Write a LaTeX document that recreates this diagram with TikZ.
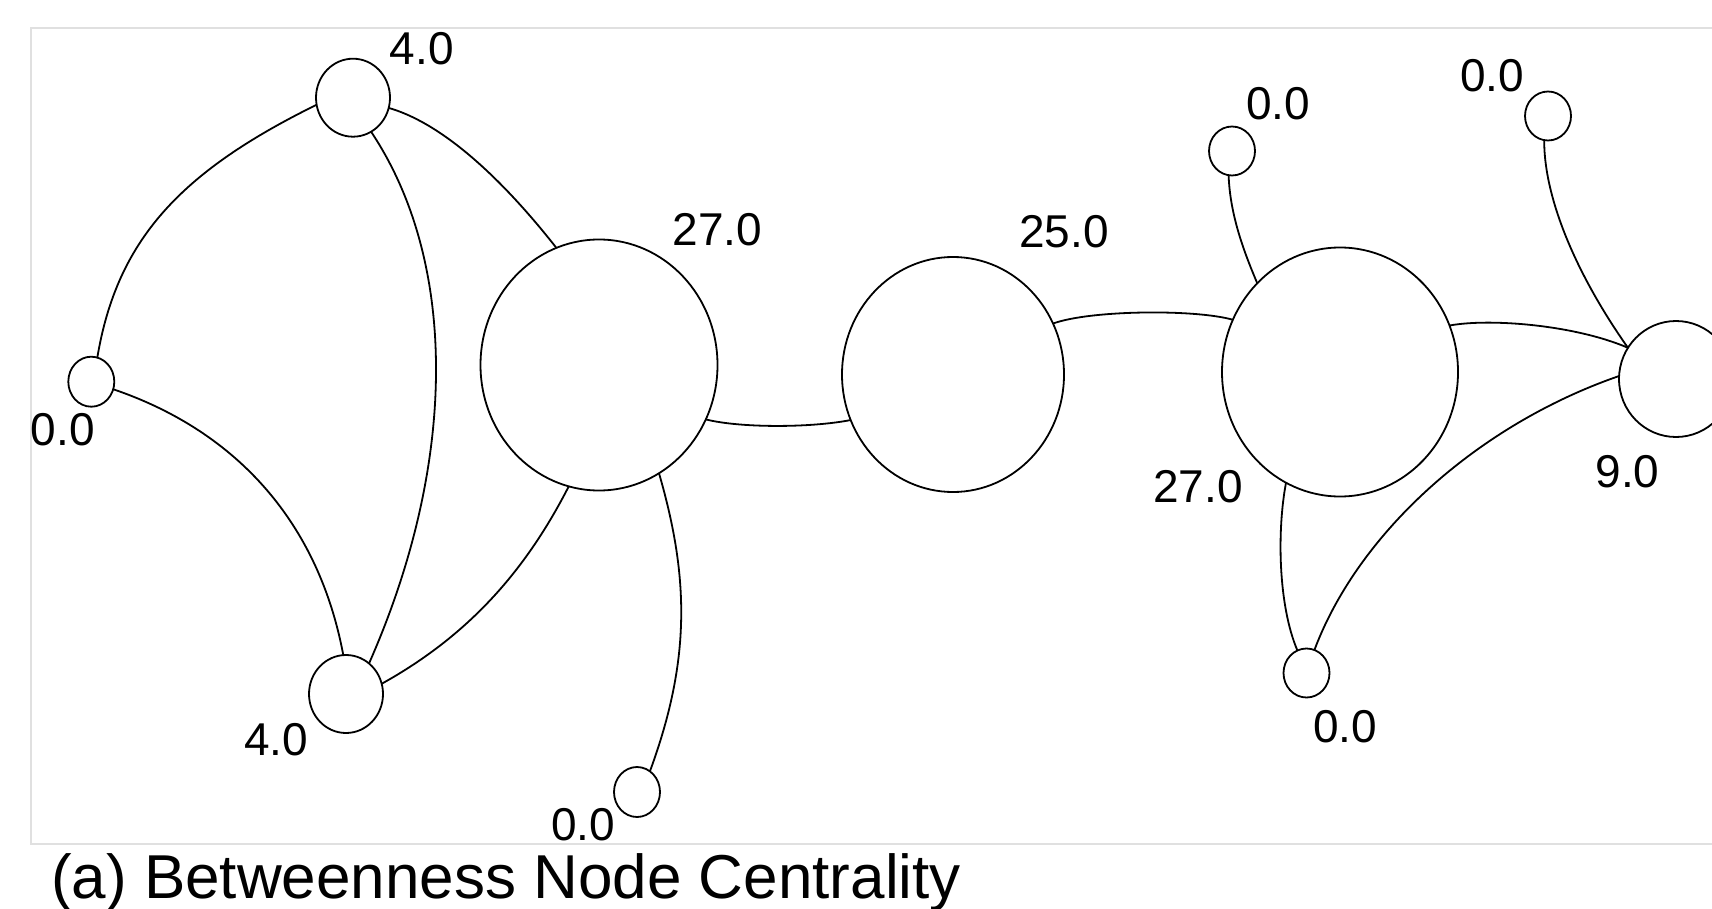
\documentclass[tikz,border=0pt]{standalone}
\usepackage{fontspec}
\setmainfont{Liberation Sans}
\usetikzlibrary{shapes.geometric}
\begin{document}
\begin{tikzpicture}[x=1pt,y=-1pt,
  nd/.style={ellipse, draw, fill=white, line width=1.8pt, inner sep=0pt, outer sep=0pt},
  ed/.style={line width=1.8pt},
  lbl/.style={inner sep=0pt, font=\fontsize{46}{50}\selectfont},
  framebox/.style={draw=black!12, line width=1.5pt}]
\useasboundingbox (0,0) rectangle (1712,909);
\clip (0,0) rectangle (1712,909);
\fill[white] (0,0) rectangle (1712,909);
\draw[framebox] (31,28) rectangle (1730,844);

% nodes
\node[nd, minimum width=74pt, minimum height=78pt] (A) at (353,97.7) {};
\node[nd, minimum width=46pt, minimum height=50pt] (B) at (91.3,381.7) {};
\node[nd, minimum width=237pt, minimum height=251pt] (C) at (599,365) {};
\node[nd, minimum width=222pt, minimum height=235pt] (D) at (953,374.5) {};
\node[nd, minimum width=236pt, minimum height=249pt] (E) at (1340,372) {};
\node[nd, minimum width=46pt, minimum height=49pt] (F) at (1232,151) {};
\node[nd, minimum width=46pt, minimum height=49pt] (G) at (1548,116) {};
\node[nd, minimum width=114pt, minimum height=116pt] (H) at (1676,379) {};
\node[nd, minimum width=74pt, minimum height=78pt] (I) at (346,694) {};
\node[nd, minimum width=46pt, minimum height=50pt] (J) at (637,792) {};
\node[nd, minimum width=46pt, minimum height=49pt] (K) at (1306.5,673) {};

% edges
\draw[ed] (B.76) .. controls (117,240) and (180,172) .. (A.191);
\draw[ed] (B.341) .. controls (239,432) and (319,525) .. (I.94.5);
\draw[ed] (A.298) .. controls (458,262) and (458,462) .. (I.53);
\draw[ed] (A.344) .. controls (438,122) and (496,171) .. (C.110);
\draw[ed] (C.256) .. controls (523,576) and (464,638) .. (I.16);
\draw[ed] (C.299) .. controls (690,580) and (690,662) .. (J.58);
\draw[ed] (C.333) .. controls (740,428) and (810,428) .. (D.204);
\draw[ed] (D.27) .. controls (1090,310) and (1195,309) .. (E.154);
\draw[ed] (F.262) .. controls (1230,215) and (1244,252) .. (E.133);
\draw[ed] (E.23) .. controls (1490,318) and (1575,325) .. (H.147);
\draw[ed] (G.261) .. controls (1544,200) and (1578,277) .. (H.147);
\draw[ed] (E.244) .. controls (1277,530) and (1278,605) .. (K.112);
\draw[ed] (K.71) .. controls (1359,531) and (1480,424) .. (H.177);

% labels
\node[lbl] (lA) at (421.7,48.3) {4.0};
\node[lbl] (lB) at (62.8,430) {0.0};
\node[lbl] (lC) at (717.5,230) {27.0};
\node[lbl] (lD) at (1064,231.7) {25.0};
\node[lbl] (lE) at (1198,486.5) {27.0};
\node[lbl] (lF) at (1278,104) {0.0};
\node[lbl] (lG) at (1492,76) {0.0};
\node[lbl] (lH) at (1627.5,471.5) {9.0};
\node[lbl] (lI) at (276,740) {4.0};
\node[lbl] (lJ) at (583,825) {0.0};
\node[lbl] (lK) at (1345,726.5) {0.0};

\node[anchor=base west, inner sep=0pt, font=\fontsize{62}{70}\selectfont] (cap) at (51,898) {(a) Betweenness Node Centrality};
\end{tikzpicture}
\end{document}
